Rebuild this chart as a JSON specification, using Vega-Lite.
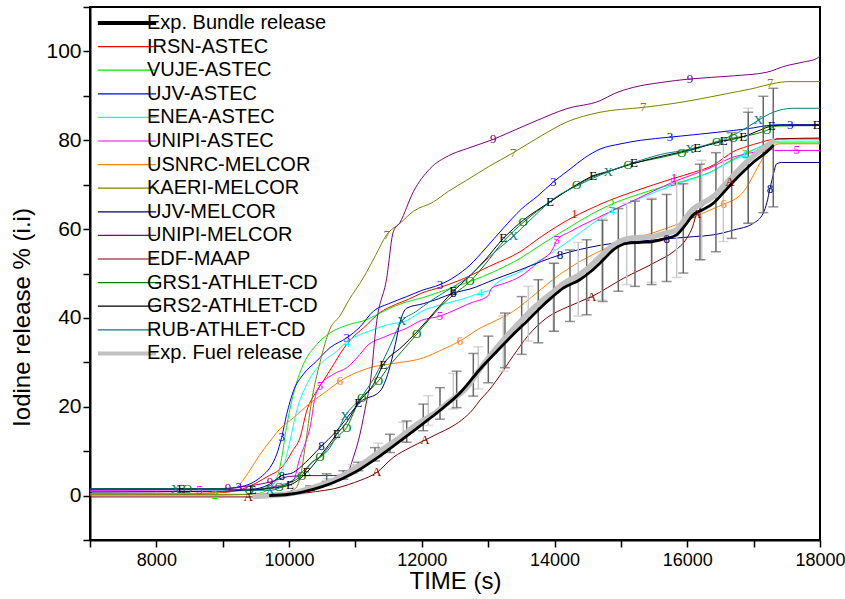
{
"$schema": "https://vega.github.io/schema/vega-lite/v6.json",
"width": 730, "height": 533,
"autosize": {"type": "none"},
"padding": {"left": 90, "top": 7, "right": 25, "bottom": 59},
"background": "white",
"config": {
 "font": "Liberation Sans",
 "view": {"stroke": "black", "strokeWidth": 2},
 "axis": {"grid": false, "domainColor": "black", "domainWidth": 2, "tickColor": "black", "tickWidth": 1.5, "tickSize": 7, "labelColor": "black", "labelFontSize": 21, "titleColor": "black", "titleFontSize": 24, "titleFontWeight": "normal", "labelFont": "Liberation Sans", "titleFont": "Liberation Sans", "labelOverlap": false, "labelFlush": false}
},
"datasets": {
 "curves": [
  {"s":"IRSN-ASTEC","t":7000,"v":0.5},{"s":"IRSN-ASTEC","t":8500,"v":0.5},{"s":"IRSN-ASTEC","t":9000,"v":0.7},{"s":"IRSN-ASTEC","t":9300,"v":1.5},{"s":"IRSN-ASTEC","t":9500,"v":2.8},{"s":"IRSN-ASTEC","t":9700,"v":4.5},{"s":"IRSN-ASTEC","t":9850,"v":5.8},{"s":"IRSN-ASTEC","t":9950,"v":7.5},{"s":"IRSN-ASTEC","t":10050,"v":10},{"s":"IRSN-ASTEC","t":10164,"v":13},{"s":"IRSN-ASTEC","t":10264,"v":19},{"s":"IRSN-ASTEC","t":10414,"v":23.5},{"s":"IRSN-ASTEC","t":10515,"v":25.8},{"s":"IRSN-ASTEC","t":10650,"v":29},{"s":"IRSN-ASTEC","t":10817,"v":33},{"s":"IRSN-ASTEC","t":10950,"v":35.5},{"s":"IRSN-ASTEC","t":11118,"v":37.7},{"s":"IRSN-ASTEC","t":11370,"v":41.2},{"s":"IRSN-ASTEC","t":11600,"v":43},{"s":"IRSN-ASTEC","t":11800,"v":44.2},{"s":"IRSN-ASTEC","t":12000,"v":45.6},{"s":"IRSN-ASTEC","t":12300,"v":47},{"s":"IRSN-ASTEC","t":12700,"v":49.3},{"s":"IRSN-ASTEC","t":13000,"v":51.5},{"s":"IRSN-ASTEC","t":13480,"v":54.9},{"s":"IRSN-ASTEC","t":13800,"v":58.3},{"s":"IRSN-ASTEC","t":14230,"v":62.3},{"s":"IRSN-ASTEC","t":14500,"v":64.3},{"s":"IRSN-ASTEC","t":14800,"v":66.3},{"s":"IRSN-ASTEC","t":15200,"v":68.5},{"s":"IRSN-ASTEC","t":15790,"v":71.4},{"s":"IRSN-ASTEC","t":16100,"v":72.8},{"s":"IRSN-ASTEC","t":16390,"v":74.4},{"s":"IRSN-ASTEC","t":16550,"v":76},{"s":"IRSN-ASTEC","t":16690,"v":77.4},{"s":"IRSN-ASTEC","t":16900,"v":78.6},{"s":"IRSN-ASTEC","t":17100,"v":79.5},{"s":"IRSN-ASTEC","t":17250,"v":80.1},{"s":"IRSN-ASTEC","t":17400,"v":80.3},{"s":"IRSN-ASTEC","t":18000,"v":80.3},

  {"s":"VUJE-ASTEC","t":7000,"v":0.1},{"s":"VUJE-ASTEC","t":9000,"v":0.1},{"s":"VUJE-ASTEC","t":9500,"v":0.4},{"s":"VUJE-ASTEC","t":9700,"v":1.5},{"s":"VUJE-ASTEC","t":9780,"v":3},{"s":"VUJE-ASTEC","t":9840,"v":5},{"s":"VUJE-ASTEC","t":9890,"v":8.6},{"s":"VUJE-ASTEC","t":9960,"v":15.3},{"s":"VUJE-ASTEC","t":10064,"v":22.8},{"s":"VUJE-ASTEC","t":10214,"v":29.5},{"s":"VUJE-ASTEC","t":10416,"v":34},{"s":"VUJE-ASTEC","t":10616,"v":36.6},{"s":"VUJE-ASTEC","t":10900,"v":38.5},{"s":"VUJE-ASTEC","t":11169,"v":39.6},{"s":"VUJE-ASTEC","t":11320,"v":40.7},{"s":"VUJE-ASTEC","t":11520,"v":42.2},{"s":"VUJE-ASTEC","t":11750,"v":43.5},{"s":"VUJE-ASTEC","t":12000,"v":44.5},{"s":"VUJE-ASTEC","t":12300,"v":46},{"s":"VUJE-ASTEC","t":12726,"v":48.2},{"s":"VUJE-ASTEC","t":13100,"v":50.5},{"s":"VUJE-ASTEC","t":13480,"v":53.4},{"s":"VUJE-ASTEC","t":13800,"v":56.5},{"s":"VUJE-ASTEC","t":14233,"v":60.5},{"s":"VUJE-ASTEC","t":14550,"v":63.3},{"s":"VUJE-ASTEC","t":14860,"v":65.6},{"s":"VUJE-ASTEC","t":15300,"v":68},{"s":"VUJE-ASTEC","t":15800,"v":70.2},{"s":"VUJE-ASTEC","t":16100,"v":71.5},{"s":"VUJE-ASTEC","t":16400,"v":73.2},{"s":"VUJE-ASTEC","t":16600,"v":75},{"s":"VUJE-ASTEC","t":16870,"v":77},{"s":"VUJE-ASTEC","t":17100,"v":78.5},{"s":"VUJE-ASTEC","t":17300,"v":79.4},{"s":"VUJE-ASTEC","t":18000,"v":79.4},

  {"s":"UJV-ASTEC","t":7000,"v":1.3},{"s":"UJV-ASTEC","t":9000,"v":1.5},{"s":"UJV-ASTEC","t":9200,"v":1.8},{"s":"UJV-ASTEC","t":9461,"v":3},{"s":"UJV-ASTEC","t":9600,"v":4.5},{"s":"UJV-ASTEC","t":9712,"v":6.3},{"s":"UJV-ASTEC","t":9813,"v":9.3},{"s":"UJV-ASTEC","t":9888,"v":13.1},{"s":"UJV-ASTEC","t":9964,"v":18.3},{"s":"UJV-ASTEC","t":10064,"v":23.5},{"s":"UJV-ASTEC","t":10214,"v":27.3},{"s":"UJV-ASTEC","t":10416,"v":30.3},{"s":"UJV-ASTEC","t":10616,"v":33.3},{"s":"UJV-ASTEC","t":10868,"v":35.5},{"s":"UJV-ASTEC","t":11070,"v":38},{"s":"UJV-ASTEC","t":11269,"v":41.5},{"s":"UJV-ASTEC","t":11500,"v":43.2},{"s":"UJV-ASTEC","t":11772,"v":44.8},{"s":"UJV-ASTEC","t":12000,"v":46.2},{"s":"UJV-ASTEC","t":12274,"v":47.5},{"s":"UJV-ASTEC","t":12500,"v":49.3},{"s":"UJV-ASTEC","t":12726,"v":51.9},{"s":"UJV-ASTEC","t":12950,"v":55.5},{"s":"UJV-ASTEC","t":13228,"v":60.2},{"s":"UJV-ASTEC","t":13500,"v":64.5},{"s":"UJV-ASTEC","t":13750,"v":67.5},{"s":"UJV-ASTEC","t":13981,"v":70.6},{"s":"UJV-ASTEC","t":14233,"v":73.5},{"s":"UJV-ASTEC","t":14450,"v":76},{"s":"UJV-ASTEC","t":14685,"v":78},{"s":"UJV-ASTEC","t":15000,"v":79.2},{"s":"UJV-ASTEC","t":15300,"v":80},{"s":"UJV-ASTEC","t":15739,"v":80.7},{"s":"UJV-ASTEC","t":16200,"v":81.4},{"s":"UJV-ASTEC","t":16693,"v":82.2},{"s":"UJV-ASTEC","t":17000,"v":82.8},{"s":"UJV-ASTEC","t":17196,"v":83.3},{"s":"UJV-ASTEC","t":17400,"v":83.5},{"s":"UJV-ASTEC","t":18000,"v":83.5},

  {"s":"ENEA-ASTEC","t":7000,"v":0.9},{"s":"ENEA-ASTEC","t":9000,"v":1},{"s":"ENEA-ASTEC","t":9500,"v":1.2},{"s":"ENEA-ASTEC","t":9750,"v":2.5},{"s":"ENEA-ASTEC","t":9850,"v":4},{"s":"ENEA-ASTEC","t":9912,"v":6.3},{"s":"ENEA-ASTEC","t":10014,"v":12.3},{"s":"ENEA-ASTEC","t":10114,"v":19.1},{"s":"ENEA-ASTEC","t":10265,"v":25},{"s":"ENEA-ASTEC","t":10466,"v":29.5},{"s":"ENEA-ASTEC","t":10717,"v":32.5},{"s":"ENEA-ASTEC","t":10868,"v":34.6},{"s":"ENEA-ASTEC","t":11200,"v":37},{"s":"ENEA-ASTEC","t":11500,"v":38.5},{"s":"ENEA-ASTEC","t":11772,"v":39.4},{"s":"ENEA-ASTEC","t":12000,"v":41.5},{"s":"ENEA-ASTEC","t":12300,"v":43},{"s":"ENEA-ASTEC","t":12600,"v":44.2},{"s":"ENEA-ASTEC","t":12877,"v":45.6},{"s":"ENEA-ASTEC","t":13050,"v":46.5},{"s":"ENEA-ASTEC","t":13077,"v":47.1},{"s":"ENEA-ASTEC","t":13479,"v":50.4},{"s":"ENEA-ASTEC","t":13981,"v":54.9},{"s":"ENEA-ASTEC","t":14233,"v":57.5},{"s":"ENEA-ASTEC","t":14550,"v":61},{"s":"ENEA-ASTEC","t":14860,"v":64},{"s":"ENEA-ASTEC","t":15300,"v":67},{"s":"ENEA-ASTEC","t":15789,"v":69.9},{"s":"ENEA-ASTEC","t":16300,"v":72.5},{"s":"ENEA-ASTEC","t":16600,"v":74.8},{"s":"ENEA-ASTEC","t":16844,"v":76.6},{"s":"ENEA-ASTEC","t":17100,"v":78.6},{"s":"ENEA-ASTEC","t":17250,"v":79.6},{"s":"ENEA-ASTEC","t":17400,"v":79.8},{"s":"ENEA-ASTEC","t":18000,"v":79.8},

  {"s":"UNIPI-ASTEC","t":7000,"v":1.2},{"s":"UNIPI-ASTEC","t":8650,"v":1.3},{"s":"UNIPI-ASTEC","t":9500,"v":1.5},{"s":"UNIPI-ASTEC","t":9900,"v":2.5},{"s":"UNIPI-ASTEC","t":10064,"v":3.4},{"s":"UNIPI-ASTEC","t":10164,"v":8.6},{"s":"UNIPI-ASTEC","t":10250,"v":12},{"s":"UNIPI-ASTEC","t":10315,"v":15.3},{"s":"UNIPI-ASTEC","t":10390,"v":22},{"s":"UNIPI-ASTEC","t":10466,"v":24.7},{"s":"UNIPI-ASTEC","t":10666,"v":27.3},{"s":"UNIPI-ASTEC","t":10868,"v":28.8},{"s":"UNIPI-ASTEC","t":11068,"v":31.8},{"s":"UNIPI-ASTEC","t":11169,"v":33.6},{"s":"UNIPI-ASTEC","t":11450,"v":35.8},{"s":"UNIPI-ASTEC","t":11772,"v":37.7},{"s":"UNIPI-ASTEC","t":12000,"v":39.5},{"s":"UNIPI-ASTEC","t":12274,"v":40.4},{"s":"UNIPI-ASTEC","t":12500,"v":41.8},{"s":"UNIPI-ASTEC","t":12726,"v":43.3},{"s":"UNIPI-ASTEC","t":13000,"v":45},{"s":"UNIPI-ASTEC","t":13052,"v":46.7},{"s":"UNIPI-ASTEC","t":13250,"v":47.8},{"s":"UNIPI-ASTEC","t":13479,"v":49.3},{"s":"UNIPI-ASTEC","t":13750,"v":52.5},{"s":"UNIPI-ASTEC","t":13981,"v":55.7},{"s":"UNIPI-ASTEC","t":14032,"v":57.5},{"s":"UNIPI-ASTEC","t":14233,"v":59.4},{"s":"UNIPI-ASTEC","t":14685,"v":62.8},{"s":"UNIPI-ASTEC","t":15200,"v":66.5},{"s":"UNIPI-ASTEC","t":15789,"v":70.6},{"s":"UNIPI-ASTEC","t":16300,"v":73.5},{"s":"UNIPI-ASTEC","t":16693,"v":76.2},{"s":"UNIPI-ASTEC","t":17000,"v":77.3},{"s":"UNIPI-ASTEC","t":17246,"v":78.1},{"s":"UNIPI-ASTEC","t":17320,"v":77.7},{"s":"UNIPI-ASTEC","t":18000,"v":77.7},

  {"s":"USNRC-MELCOR","t":7000,"v":0.4},{"s":"USNRC-MELCOR","t":8800,"v":0.5},{"s":"USNRC-MELCOR","t":9000,"v":0.8},{"s":"USNRC-MELCOR","t":9150,"v":1.2},{"s":"USNRC-MELCOR","t":9260,"v":2.6},{"s":"USNRC-MELCOR","t":9400,"v":5.5},{"s":"USNRC-MELCOR","t":9550,"v":9},{"s":"USNRC-MELCOR","t":9700,"v":12},{"s":"USNRC-MELCOR","t":9850,"v":14.8},{"s":"USNRC-MELCOR","t":10064,"v":17.5},{"s":"USNRC-MELCOR","t":10315,"v":20.8},{"s":"USNRC-MELCOR","t":10566,"v":23.5},{"s":"USNRC-MELCOR","t":10767,"v":25.8},{"s":"USNRC-MELCOR","t":11068,"v":28},{"s":"USNRC-MELCOR","t":11219,"v":28.8},{"s":"USNRC-MELCOR","t":11600,"v":29.8},{"s":"USNRC-MELCOR","t":12022,"v":31},{"s":"USNRC-MELCOR","t":12300,"v":32.8},{"s":"USNRC-MELCOR","t":12575,"v":34.8},{"s":"USNRC-MELCOR","t":12877,"v":37.7},{"s":"USNRC-MELCOR","t":13100,"v":39.3},{"s":"USNRC-MELCOR","t":13379,"v":41.5},{"s":"USNRC-MELCOR","t":13600,"v":44},{"s":"USNRC-MELCOR","t":13881,"v":47.5},{"s":"USNRC-MELCOR","t":14100,"v":50},{"s":"USNRC-MELCOR","t":14383,"v":52.7},{"s":"USNRC-MELCOR","t":14650,"v":54.8},{"s":"USNRC-MELCOR","t":14885,"v":56.4},{"s":"USNRC-MELCOR","t":15150,"v":57.8},{"s":"USNRC-MELCOR","t":15388,"v":58.7},{"s":"USNRC-MELCOR","t":15650,"v":60},{"s":"USNRC-MELCOR","t":15890,"v":61.3},{"s":"USNRC-MELCOR","t":16150,"v":63},{"s":"USNRC-MELCOR","t":16392,"v":64.6},{"s":"USNRC-MELCOR","t":16550,"v":65.6},{"s":"USNRC-MELCOR","t":16794,"v":67.6},{"s":"USNRC-MELCOR","t":16900,"v":69.5},{"s":"USNRC-MELCOR","t":16995,"v":72.1},{"s":"USNRC-MELCOR","t":17120,"v":75.5},{"s":"USNRC-MELCOR","t":17246,"v":78.1},{"s":"USNRC-MELCOR","t":17397,"v":79.2},{"s":"USNRC-MELCOR","t":18000,"v":79.2},

  {"s":"KAERI-MELCOR","t":7000,"v":0.2},{"s":"KAERI-MELCOR","t":9500,"v":0.3},{"s":"KAERI-MELCOR","t":9900,"v":0.6},{"s":"KAERI-MELCOR","t":10050,"v":1.2},{"s":"KAERI-MELCOR","t":10114,"v":1.9},{"s":"KAERI-MELCOR","t":10180,"v":5},{"s":"KAERI-MELCOR","t":10240,"v":10.8},{"s":"KAERI-MELCOR","t":10340,"v":21.3},{"s":"KAERI-MELCOR","t":10466,"v":30},{"s":"KAERI-MELCOR","t":10616,"v":37.5},{"s":"KAERI-MELCOR","t":10767,"v":40.5},{"s":"KAERI-MELCOR","t":10900,"v":44},{"s":"KAERI-MELCOR","t":11118,"v":49},{"s":"KAERI-MELCOR","t":11300,"v":54},{"s":"KAERI-MELCOR","t":11470,"v":58.7},{"s":"KAERI-MELCOR","t":11671,"v":61.3},{"s":"KAERI-MELCOR","t":11872,"v":64},{"s":"KAERI-MELCOR","t":12173,"v":66.1},{"s":"KAERI-MELCOR","t":12400,"v":68.5},{"s":"KAERI-MELCOR","t":12676,"v":71},{"s":"KAERI-MELCOR","t":13000,"v":74},{"s":"KAERI-MELCOR","t":13379,"v":77.2},{"s":"KAERI-MELCOR","t":13800,"v":81},{"s":"KAERI-MELCOR","t":14183,"v":84.1},{"s":"KAERI-MELCOR","t":14685,"v":86.3},{"s":"KAERI-MELCOR","t":15337,"v":87.4},{"s":"KAERI-MELCOR","t":15800,"v":88.3},{"s":"KAERI-MELCOR","t":16191,"v":89.3},{"s":"KAERI-MELCOR","t":16600,"v":90.5},{"s":"KAERI-MELCOR","t":16944,"v":91.5},{"s":"KAERI-MELCOR","t":17346,"v":92.9},{"s":"KAERI-MELCOR","t":17500,"v":93.2},{"s":"KAERI-MELCOR","t":18000,"v":93.2},

  {"s":"UJV-MELCOR","t":7000,"v":0.8},{"s":"UJV-MELCOR","t":9000,"v":1},{"s":"UJV-MELCOR","t":9400,"v":1.3},{"s":"UJV-MELCOR","t":9700,"v":2.5},{"s":"UJV-MELCOR","t":9888,"v":4.5},{"s":"UJV-MELCOR","t":10064,"v":5.2},{"s":"UJV-MELCOR","t":10250,"v":7.5},{"s":"UJV-MELCOR","t":10466,"v":10.8},{"s":"UJV-MELCOR","t":10717,"v":14.6},{"s":"UJV-MELCOR","t":10968,"v":19.3},{"s":"UJV-MELCOR","t":11068,"v":21},{"s":"UJV-MELCOR","t":11370,"v":23.5},{"s":"UJV-MELCOR","t":11500,"v":28},{"s":"UJV-MELCOR","t":11600,"v":34},{"s":"UJV-MELCOR","t":11671,"v":39},{"s":"UJV-MELCOR","t":11772,"v":42.2},{"s":"UJV-MELCOR","t":12022,"v":43.2},{"s":"UJV-MELCOR","t":12250,"v":44.3},{"s":"UJV-MELCOR","t":12474,"v":45.6},{"s":"UJV-MELCOR","t":12726,"v":46.5},{"s":"UJV-MELCOR","t":13100,"v":48.7},{"s":"UJV-MELCOR","t":13479,"v":50.8},{"s":"UJV-MELCOR","t":13800,"v":52.7},{"s":"UJV-MELCOR","t":14082,"v":54.2},{"s":"UJV-MELCOR","t":14500,"v":55.8},{"s":"UJV-MELCOR","t":14885,"v":56.8},{"s":"UJV-MELCOR","t":15300,"v":57.3},{"s":"UJV-MELCOR","t":15689,"v":57.8},{"s":"UJV-MELCOR","t":16100,"v":58.3},{"s":"UJV-MELCOR","t":16392,"v":58.7},{"s":"UJV-MELCOR","t":16700,"v":59.8},{"s":"UJV-MELCOR","t":16995,"v":61.3},{"s":"UJV-MELCOR","t":17145,"v":63.6},{"s":"UJV-MELCOR","t":17200,"v":66},{"s":"UJV-MELCOR","t":17246,"v":69.1},{"s":"UJV-MELCOR","t":17300,"v":72.5},{"s":"UJV-MELCOR","t":17346,"v":74.7},{"s":"UJV-MELCOR","t":17420,"v":75},{"s":"UJV-MELCOR","t":18000,"v":75},

  {"s":"UNIPI-MELCOR","t":7000,"v":1.5},{"s":"UNIPI-MELCOR","t":9000,"v":1.6},{"s":"UNIPI-MELCOR","t":9300,"v":2},{"s":"UNIPI-MELCOR","t":9700,"v":3},{"s":"UNIPI-MELCOR","t":10000,"v":4.3},{"s":"UNIPI-MELCOR","t":10300,"v":4.5},{"s":"UNIPI-MELCOR","t":10666,"v":4.5},{"s":"UNIPI-MELCOR","t":10868,"v":4.9},{"s":"UNIPI-MELCOR","t":10968,"v":8.6},{"s":"UNIPI-MELCOR","t":11068,"v":13.8},{"s":"UNIPI-MELCOR","t":11169,"v":21.3},{"s":"UNIPI-MELCOR","t":11219,"v":25},{"s":"UNIPI-MELCOR","t":11320,"v":39.2},{"s":"UNIPI-MELCOR","t":11470,"v":48.9},{"s":"UNIPI-MELCOR","t":11570,"v":59.4},{"s":"UNIPI-MELCOR","t":11671,"v":61.5},{"s":"UNIPI-MELCOR","t":11872,"v":68.4},{"s":"UNIPI-MELCOR","t":12123,"v":73.6},{"s":"UNIPI-MELCOR","t":12400,"v":76.5},{"s":"UNIPI-MELCOR","t":12676,"v":78.1},{"s":"UNIPI-MELCOR","t":13077,"v":80.2},{"s":"UNIPI-MELCOR","t":13400,"v":82.3},{"s":"UNIPI-MELCOR","t":13680,"v":84.1},{"s":"UNIPI-MELCOR","t":14183,"v":87.1},{"s":"UNIPI-MELCOR","t":14685,"v":88.9},{"s":"UNIPI-MELCOR","t":14900,"v":90.5},{"s":"UNIPI-MELCOR","t":15187,"v":91.9},{"s":"UNIPI-MELCOR","t":15600,"v":93},{"s":"UNIPI-MELCOR","t":16041,"v":93.8},{"s":"UNIPI-MELCOR","t":16693,"v":94.5},{"s":"UNIPI-MELCOR","t":17196,"v":95.3},{"s":"UNIPI-MELCOR","t":17497,"v":96.8},{"s":"UNIPI-MELCOR","t":17750,"v":97.6},{"s":"UNIPI-MELCOR","t":17950,"v":98.4},{"s":"UNIPI-MELCOR","t":18000,"v":99},

  {"s":"EDF-MAAP","t":7000,"v":-0.3},{"s":"EDF-MAAP","t":9500,"v":-0.3},{"s":"EDF-MAAP","t":9900,"v":-0.1},{"s":"EDF-MAAP","t":10164,"v":0.4},{"s":"EDF-MAAP","t":10400,"v":0.9},{"s":"EDF-MAAP","t":10666,"v":1.5},{"s":"EDF-MAAP","t":10900,"v":2.5},{"s":"EDF-MAAP","t":11068,"v":3.4},{"s":"EDF-MAAP","t":11320,"v":5.2},{"s":"EDF-MAAP","t":11570,"v":8.6},{"s":"EDF-MAAP","t":11822,"v":10.8},{"s":"EDF-MAAP","t":12048,"v":12.5},{"s":"EDF-MAAP","t":12250,"v":14},{"s":"EDF-MAAP","t":12425,"v":15.3},{"s":"EDF-MAAP","t":12600,"v":17},{"s":"EDF-MAAP","t":12776,"v":19.5},{"s":"EDF-MAAP","t":12877,"v":21.5},{"s":"EDF-MAAP","t":13000,"v":23.5},{"s":"EDF-MAAP","t":13128,"v":26},{"s":"EDF-MAAP","t":13379,"v":31.5},{"s":"EDF-MAAP","t":13600,"v":36},{"s":"EDF-MAAP","t":13881,"v":40},{"s":"EDF-MAAP","t":14200,"v":42.5},{"s":"EDF-MAAP","t":14559,"v":44.8},{"s":"EDF-MAAP","t":15036,"v":48.9},{"s":"EDF-MAAP","t":15539,"v":52.7},{"s":"EDF-MAAP","t":15800,"v":55},{"s":"EDF-MAAP","t":15991,"v":57.9},{"s":"EDF-MAAP","t":16080,"v":60.5},{"s":"EDF-MAAP","t":16141,"v":63.5},{"s":"EDF-MAAP","t":16191,"v":64.5},{"s":"EDF-MAAP","t":16643,"v":70.6},{"s":"EDF-MAAP","t":16944,"v":75.9},{"s":"EDF-MAAP","t":17246,"v":78.5},{"s":"EDF-MAAP","t":17350,"v":80.3},{"s":"EDF-MAAP","t":18000,"v":80.5},

  {"s":"GRS1-ATHLET-CD","t":7000,"v":1.5},{"s":"GRS1-ATHLET-CD","t":9000,"v":1.5},{"s":"GRS1-ATHLET-CD","t":9400,"v":1.3},{"s":"GRS1-ATHLET-CD","t":9700,"v":1.7},{"s":"GRS1-ATHLET-CD","t":9850,"v":2},{"s":"GRS1-ATHLET-CD","t":10000,"v":2.8},{"s":"GRS1-ATHLET-CD","t":10189,"v":4.5},{"s":"GRS1-ATHLET-CD","t":10365,"v":7.8},{"s":"GRS1-ATHLET-CD","t":10466,"v":8.6},{"s":"GRS1-ATHLET-CD","t":10600,"v":11},{"s":"GRS1-ATHLET-CD","t":10767,"v":13.8},{"s":"GRS1-ATHLET-CD","t":10868,"v":15.3},{"s":"GRS1-ATHLET-CD","t":10968,"v":18.5},{"s":"GRS1-ATHLET-CD","t":11068,"v":21.7},{"s":"GRS1-ATHLET-CD","t":11219,"v":23.8},{"s":"GRS1-ATHLET-CD","t":11345,"v":25.8},{"s":"GRS1-ATHLET-CD","t":11500,"v":29},{"s":"GRS1-ATHLET-CD","t":11700,"v":32.5},{"s":"GRS1-ATHLET-CD","t":11922,"v":36.3},{"s":"GRS1-ATHLET-CD","t":12100,"v":39.5},{"s":"GRS1-ATHLET-CD","t":12300,"v":42.8},{"s":"GRS1-ATHLET-CD","t":12500,"v":45.5},{"s":"GRS1-ATHLET-CD","t":12726,"v":48.2},{"s":"GRS1-ATHLET-CD","t":12950,"v":52},{"s":"GRS1-ATHLET-CD","t":13228,"v":57.2},{"s":"GRS1-ATHLET-CD","t":13529,"v":61.5},{"s":"GRS1-ATHLET-CD","t":13931,"v":66.1},{"s":"GRS1-ATHLET-CD","t":14333,"v":69.9},{"s":"GRS1-ATHLET-CD","t":14584,"v":71.8},{"s":"GRS1-ATHLET-CD","t":14810,"v":72.9},{"s":"GRS1-ATHLET-CD","t":15111,"v":74.5},{"s":"GRS1-ATHLET-CD","t":15500,"v":75.8},{"s":"GRS1-ATHLET-CD","t":15915,"v":77.2},{"s":"GRS1-ATHLET-CD","t":16200,"v":78.4},{"s":"GRS1-ATHLET-CD","t":16442,"v":79.6},{"s":"GRS1-ATHLET-CD","t":16693,"v":80.5},{"s":"GRS1-ATHLET-CD","t":16900,"v":81},{"s":"GRS1-ATHLET-CD","t":17196,"v":82.2},{"s":"GRS1-ATHLET-CD","t":17350,"v":83.2},{"s":"GRS1-ATHLET-CD","t":18000,"v":83.3},

  {"s":"GRS2-ATHLET-CD","t":7000,"v":1.5},{"s":"GRS2-ATHLET-CD","t":9000,"v":1.5},{"s":"GRS2-ATHLET-CD","t":9400,"v":1.2},{"s":"GRS2-ATHLET-CD","t":9700,"v":1.6},{"s":"GRS2-ATHLET-CD","t":10014,"v":2.4},{"s":"GRS2-ATHLET-CD","t":10265,"v":5.2},{"s":"GRS2-ATHLET-CD","t":10466,"v":8.8},{"s":"GRS2-ATHLET-CD","t":10717,"v":13.8},{"s":"GRS2-ATHLET-CD","t":10868,"v":16.5},{"s":"GRS2-ATHLET-CD","t":11043,"v":20.9},{"s":"GRS2-ATHLET-CD","t":11270,"v":25},{"s":"GRS2-ATHLET-CD","t":11420,"v":29.5},{"s":"GRS2-ATHLET-CD","t":11700,"v":33.5},{"s":"GRS2-ATHLET-CD","t":11922,"v":36.8},{"s":"GRS2-ATHLET-CD","t":12200,"v":41.5},{"s":"GRS2-ATHLET-CD","t":12474,"v":46},{"s":"GRS2-ATHLET-CD","t":12726,"v":49.5},{"s":"GRS2-ATHLET-CD","t":12950,"v":53},{"s":"GRS2-ATHLET-CD","t":13228,"v":57.9},{"s":"GRS2-ATHLET-CD","t":13529,"v":62},{"s":"GRS2-ATHLET-CD","t":13931,"v":66.1},{"s":"GRS2-ATHLET-CD","t":14333,"v":70},{"s":"GRS2-ATHLET-CD","t":14584,"v":72},{"s":"GRS2-ATHLET-CD","t":14810,"v":73},{"s":"GRS2-ATHLET-CD","t":15197,"v":74.8},{"s":"GRS2-ATHLET-CD","t":15500,"v":76},{"s":"GRS2-ATHLET-CD","t":15915,"v":77.4},{"s":"GRS2-ATHLET-CD","t":16150,"v":78.3},{"s":"GRS2-ATHLET-CD","t":16550,"v":79.8},{"s":"GRS2-ATHLET-CD","t":16844,"v":80.8},{"s":"GRS2-ATHLET-CD","t":17050,"v":82},{"s":"GRS2-ATHLET-CD","t":17271,"v":83.2},{"s":"GRS2-ATHLET-CD","t":17400,"v":83.4},{"s":"GRS2-ATHLET-CD","t":18000,"v":83.4},

  {"s":"RUB-ATHLET-CD","t":7000,"v":1.5},{"s":"RUB-ATHLET-CD","t":9000,"v":1.5},{"s":"RUB-ATHLET-CD","t":9400,"v":1.2},{"s":"RUB-ATHLET-CD","t":9712,"v":1.2},{"s":"RUB-ATHLET-CD","t":9900,"v":2},{"s":"RUB-ATHLET-CD","t":10100,"v":4},{"s":"RUB-ATHLET-CD","t":10350,"v":7.5},{"s":"RUB-ATHLET-CD","t":10616,"v":10.8},{"s":"RUB-ATHLET-CD","t":10843,"v":17.9},{"s":"RUB-ATHLET-CD","t":11068,"v":21.8},{"s":"RUB-ATHLET-CD","t":11300,"v":27},{"s":"RUB-ATHLET-CD","t":11500,"v":33},{"s":"RUB-ATHLET-CD","t":11696,"v":39.2},{"s":"RUB-ATHLET-CD","t":11900,"v":41.3},{"s":"RUB-ATHLET-CD","t":12150,"v":44},{"s":"RUB-ATHLET-CD","t":12474,"v":47},{"s":"RUB-ATHLET-CD","t":12726,"v":49.5},{"s":"RUB-ATHLET-CD","t":13000,"v":53.5},{"s":"RUB-ATHLET-CD","t":13379,"v":58.4},{"s":"RUB-ATHLET-CD","t":13700,"v":63},{"s":"RUB-ATHLET-CD","t":14000,"v":67},{"s":"RUB-ATHLET-CD","t":14333,"v":69.7},{"s":"RUB-ATHLET-CD","t":14810,"v":72.9},{"s":"RUB-ATHLET-CD","t":15200,"v":75},{"s":"RUB-ATHLET-CD","t":15600,"v":76.8},{"s":"RUB-ATHLET-CD","t":16041,"v":78},{"s":"RUB-ATHLET-CD","t":16500,"v":80},{"s":"RUB-ATHLET-CD","t":16800,"v":82},{"s":"RUB-ATHLET-CD","t":17070,"v":84.5},{"s":"RUB-ATHLET-CD","t":17246,"v":86},{"s":"RUB-ATHLET-CD","t":17397,"v":86.8},{"s":"RUB-ATHLET-CD","t":17600,"v":87.2},{"s":"RUB-ATHLET-CD","t":18000,"v":87.2}
 ],
 "fuel": [
  {"s":"Exp. Fuel release","t":9450,"v":-0.2},{"s":"Exp. Fuel release","t":9700,"v":0},{"s":"Exp. Fuel release","t":10000,"v":0.4},{"s":"Exp. Fuel release","t":10164,"v":0.9},{"s":"Exp. Fuel release","t":10400,"v":2},{"s":"Exp. Fuel release","t":10666,"v":3.4},{"s":"Exp. Fuel release","t":10900,"v":5.3},{"s":"Exp. Fuel release","t":11169,"v":7.8},{"s":"Exp. Fuel release","t":11400,"v":10.3},{"s":"Exp. Fuel release","t":11671,"v":13.1},{"s":"Exp. Fuel release","t":11900,"v":15.8},{"s":"Exp. Fuel release","t":12173,"v":18.3},{"s":"Exp. Fuel release","t":12400,"v":21},{"s":"Exp. Fuel release","t":12676,"v":24.3},{"s":"Exp. Fuel release","t":12900,"v":29},{"s":"Exp. Fuel release","t":13100,"v":32.8},{"s":"Exp. Fuel release","t":13380,"v":37.5},{"s":"Exp. Fuel release","t":13600,"v":41},{"s":"Exp. Fuel release","t":13780,"v":43.5},{"s":"Exp. Fuel release","t":13950,"v":45.5},{"s":"Exp. Fuel release","t":14130,"v":47.7},{"s":"Exp. Fuel release","t":14380,"v":49.8},{"s":"Exp. Fuel release","t":14550,"v":51.8},{"s":"Exp. Fuel release","t":14735,"v":54.5},{"s":"Exp. Fuel release","t":14900,"v":56.5},{"s":"Exp. Fuel release","t":15090,"v":57.8},{"s":"Exp. Fuel release","t":15300,"v":58.1},{"s":"Exp. Fuel release","t":15480,"v":58.3},{"s":"Exp. Fuel release","t":15650,"v":59},{"s":"Exp. Fuel release","t":15840,"v":59.8},{"s":"Exp. Fuel release","t":15950,"v":62},{"s":"Exp. Fuel release","t":16090,"v":64.5},{"s":"Exp. Fuel release","t":16250,"v":66},{"s":"Exp. Fuel release","t":16390,"v":67.3},{"s":"Exp. Fuel release","t":16550,"v":69.7},{"s":"Exp. Fuel release","t":16690,"v":72},{"s":"Exp. Fuel release","t":16850,"v":74.5},{"s":"Exp. Fuel release","t":17000,"v":76.5},{"s":"Exp. Fuel release","t":17250,"v":79.3},{"s":"Exp. Fuel release","t":17320,"v":80}
 ],
 "bundle": [
  {"s":"Exp. Bundle release","t":9700,"v":0},{"s":"Exp. Bundle release","t":10000,"v":0.3},{"s":"Exp. Bundle release","t":10200,"v":0.8},{"s":"Exp. Bundle release","t":10500,"v":2},{"s":"Exp. Bundle release","t":10800,"v":3.8},{"s":"Exp. Bundle release","t":11000,"v":5.3},{"s":"Exp. Bundle release","t":11300,"v":8.2},{"s":"Exp. Bundle release","t":11600,"v":11.5},{"s":"Exp. Bundle release","t":12000,"v":16},{"s":"Exp. Bundle release","t":12300,"v":19.5},{"s":"Exp. Bundle release","t":12600,"v":23.5},{"s":"Exp. Bundle release","t":12880,"v":28.5},{"s":"Exp. Bundle release","t":13100,"v":32},{"s":"Exp. Bundle release","t":13380,"v":36.3},{"s":"Exp. Bundle release","t":13600,"v":39.5},{"s":"Exp. Bundle release","t":13780,"v":42.2},{"s":"Exp. Bundle release","t":13950,"v":44.5},{"s":"Exp. Bundle release","t":14130,"v":46.7},{"s":"Exp. Bundle release","t":14380,"v":48.6},{"s":"Exp. Bundle release","t":14550,"v":50.5},{"s":"Exp. Bundle release","t":14735,"v":53.1},{"s":"Exp. Bundle release","t":14900,"v":55.5},{"s":"Exp. Bundle release","t":15090,"v":56.8},{"s":"Exp. Bundle release","t":15300,"v":57},{"s":"Exp. Bundle release","t":15480,"v":57.2},{"s":"Exp. Bundle release","t":15650,"v":57.8},{"s":"Exp. Bundle release","t":15840,"v":58.7},{"s":"Exp. Bundle release","t":15950,"v":60.5},{"s":"Exp. Bundle release","t":16090,"v":63.2},{"s":"Exp. Bundle release","t":16250,"v":64.5},{"s":"Exp. Bundle release","t":16390,"v":65.8},{"s":"Exp. Bundle release","t":16550,"v":68.3},{"s":"Exp. Bundle release","t":16690,"v":70.6},{"s":"Exp. Bundle release","t":16850,"v":73},{"s":"Exp. Bundle release","t":17000,"v":75.1},{"s":"Exp. Bundle release","t":17250,"v":78.1},{"s":"Exp. Bundle release","t":17300,"v":78.9}
 ],
 "err": [
  {"g":"fuel","t":10212,"lo":0.4,"hi":1.4},{"g":"fuel","t":10589,"lo":2.2,"hi":3.8},{"g":"fuel","t":10966,"lo":5.0,"hi":7.0},{"g":"fuel","t":11343,"lo":8.7,"hi":11.8},{"g":"fuel","t":11720,"lo":12.2,"hi":16.5},{"g":"fuel","t":12097,"lo":15.8,"hi":22.5},{"g":"fuel","t":12474,"lo":19.5,"hi":27.5},{"g":"fuel","t":12851,"lo":24.0,"hi":33.5},{"g":"fuel","t":13228,"lo":28.0,"hi":40.5},{"g":"fuel","t":13605,"lo":34.8,"hi":47.1},{"g":"fuel","t":13981,"lo":37.0,"hi":52.3},{"g":"fuel","t":14357,"lo":40.4,"hi":57.0},{"g":"fuel","t":14710,"lo":44.0,"hi":62.4},{"g":"fuel","t":15087,"lo":47.5,"hi":65.8},{"g":"fuel","t":15463,"lo":48.0,"hi":67.0},{"g":"fuel","t":15840,"lo":49.1,"hi":70.0},{"g":"fuel","t":16217,"lo":53.1,"hi":75.5},{"g":"fuel","t":16543,"lo":57.2,"hi":80.3},{"g":"fuel","t":16919,"lo":61.3,"hi":87.2},
  {"g":"bundle","t":10315,"lo":1.2,"hi":2.2},{"g":"bundle","t":10566,"lo":3.2,"hi":4.9},{"g":"bundle","t":10817,"lo":3.7,"hi":5.6},{"g":"bundle","t":11043,"lo":5.6,"hi":7.5},{"g":"bundle","t":11294,"lo":7.8,"hi":10.8},{"g":"bundle","t":11520,"lo":9.7,"hi":13.8},{"g":"bundle","t":11772,"lo":12.0,"hi":16.8},{"g":"bundle","t":12022,"lo":14.6,"hi":20.6},{"g":"bundle","t":12274,"lo":17.2,"hi":24.3},{"g":"bundle","t":12525,"lo":19.8,"hi":28.0},{"g":"bundle","t":12776,"lo":22.4,"hi":32.0},{"g":"bundle","t":13002,"lo":25.4,"hi":35.9},{"g":"bundle","t":13253,"lo":28.8,"hi":41.1},{"g":"bundle","t":13505,"lo":31.8,"hi":44.8},{"g":"bundle","t":13755,"lo":34.4,"hi":48.6},{"g":"bundle","t":13992,"lo":37.0,"hi":52.3},{"g":"bundle","t":14233,"lo":39.2,"hi":55.3},{"g":"bundle","t":14484,"lo":40.7,"hi":57.6},{"g":"bundle","t":14725,"lo":43.7,"hi":62.0},{"g":"bundle","t":14961,"lo":46.0,"hi":64.6},{"g":"bundle","t":15212,"lo":47.1,"hi":66.3},{"g":"bundle","t":15463,"lo":47.5,"hi":66.7},{"g":"bundle","t":15689,"lo":48.2,"hi":67.8},{"g":"bundle","t":15940,"lo":50.1,"hi":70.2},{"g":"bundle","t":16191,"lo":53.1,"hi":74.6},{"g":"bundle","t":16432,"lo":54.9,"hi":77.2},{"g":"bundle","t":16669,"lo":57.9,"hi":81.7},{"g":"bundle","t":16919,"lo":61.3,"hi":86.3},{"g":"bundle","t":17145,"lo":63.7,"hi":89.9},{"g":"bundle","t":17296,"lo":65.0,"hi":91.7}
 ],
 "marks": [
  {"s":"IRSN-ASTEC","m":"1","t":14300,"v":63.3},{"s":"IRSN-ASTEC","m":"1","t":15800,"v":71.4},
  {"s":"VUJE-ASTEC","m":"2","t":8880,"v":0.1},{"s":"VUJE-ASTEC","m":"2","t":14860,"v":65.6},{"s":"VUJE-ASTEC","m":"2","t":16870,"v":77},
  {"s":"UJV-ASTEC","m":"3","t":9240,"v":1.9},{"s":"UJV-ASTEC","m":"3","t":9888,"v":13.1},{"s":"UJV-ASTEC","m":"3","t":10868,"v":35.5},{"s":"UJV-ASTEC","m":"3","t":12274,"v":47.5},{"s":"UJV-ASTEC","m":"3","t":13981,"v":70.6},{"s":"UJV-ASTEC","m":"3","t":15739,"v":80.7},{"s":"UJV-ASTEC","m":"3","t":17550,"v":83.5},
  {"s":"ENEA-ASTEC","m":"4","t":10868,"v":34.4},{"s":"ENEA-ASTEC","m":"4","t":12877,"v":45.6},{"s":"ENEA-ASTEC","m":"4","t":14860,"v":64},{"s":"ENEA-ASTEC","m":"4","t":16844,"v":76.6},
  {"s":"UNIPI-ASTEC","m":"5","t":8650,"v":1.3},{"s":"UNIPI-ASTEC","m":"5","t":10466,"v":24.7},{"s":"UNIPI-ASTEC","m":"5","t":12274,"v":40.4},{"s":"UNIPI-ASTEC","m":"5","t":14032,"v":57.5},{"s":"UNIPI-ASTEC","m":"5","t":15789,"v":70.6},{"s":"UNIPI-ASTEC","m":"5","t":17650,"v":77.7},
  {"s":"USNRC-MELCOR","m":"6","t":10767,"v":25.8},{"s":"USNRC-MELCOR","m":"6","t":12575,"v":34.8},{"s":"USNRC-MELCOR","m":"6","t":16550,"v":65.6},
  {"s":"KAERI-MELCOR","m":"7","t":11470,"v":58.7},{"s":"KAERI-MELCOR","m":"7","t":13379,"v":77.2},{"s":"KAERI-MELCOR","m":"7","t":15337,"v":87.4},{"s":"KAERI-MELCOR","m":"7","t":17250,"v":93},
  {"s":"UJV-MELCOR","m":"8","t":9888,"v":4.5},{"s":"UJV-MELCOR","m":"8","t":10490,"v":11.2},{"s":"UJV-MELCOR","m":"8","t":12474,"v":45.6},{"s":"UJV-MELCOR","m":"8","t":14082,"v":54.2},{"s":"UJV-MELCOR","m":"8","t":15689,"v":57.8},{"s":"UJV-MELCOR","m":"8","t":17246,"v":69.1},
  {"s":"UNIPI-MELCOR","m":"9","t":9080,"v":1.6},{"s":"UNIPI-MELCOR","m":"9","t":9712,"v":3},{"s":"UNIPI-MELCOR","m":"9","t":13077,"v":80.2},{"s":"UNIPI-MELCOR","m":"9","t":16041,"v":93.8},
  {"s":"EDF-MAAP","m":"A","t":9385,"v":-0.3},{"s":"EDF-MAAP","m":"A","t":11320,"v":5.2},{"s":"EDF-MAAP","m":"A","t":12048,"v":12.5},{"s":"EDF-MAAP","m":"A","t":14559,"v":44.8},{"s":"EDF-MAAP","m":"A","t":16141,"v":63.5},{"s":"EDF-MAAP","m":"A","t":16643,"v":70.6},
  {"s":"GRS1-ATHLET-CD","m":"O","t":8470,"v":1.5},{"s":"GRS1-ATHLET-CD","m":"O","t":9400,"v":1.3},{"s":"GRS1-ATHLET-CD","m":"O","t":9850,"v":2},{"s":"GRS1-ATHLET-CD","m":"O","t":10189,"v":4.5},{"s":"GRS1-ATHLET-CD","m":"O","t":10466,"v":8.6},{"s":"GRS1-ATHLET-CD","m":"O","t":10868,"v":15.3},{"s":"GRS1-ATHLET-CD","m":"O","t":11094,"v":22},{"s":"GRS1-ATHLET-CD","m":"O","t":11345,"v":25.8},{"s":"GRS1-ATHLET-CD","m":"O","t":11922,"v":36.3},{"s":"GRS1-ATHLET-CD","m":"O","t":12726,"v":48.2},{"s":"GRS1-ATHLET-CD","m":"O","t":13529,"v":61.5},{"s":"GRS1-ATHLET-CD","m":"O","t":14333,"v":69.9},{"s":"GRS1-ATHLET-CD","m":"O","t":15111,"v":74.5},{"s":"GRS1-ATHLET-CD","m":"O","t":15915,"v":77.2},{"s":"GRS1-ATHLET-CD","m":"O","t":16442,"v":79.6},{"s":"GRS1-ATHLET-CD","m":"O","t":16693,"v":80.5},{"s":"GRS1-ATHLET-CD","m":"O","t":17196,"v":82.2},
  {"s":"GRS2-ATHLET-CD","m":"E","t":8380,"v":1.5},{"s":"GRS2-ATHLET-CD","m":"E","t":9450,"v":1.2},{"s":"GRS2-ATHLET-CD","m":"E","t":10014,"v":2.4},{"s":"GRS2-ATHLET-CD","m":"E","t":10265,"v":5.2},{"s":"GRS2-ATHLET-CD","m":"E","t":10717,"v":13.8},{"s":"GRS2-ATHLET-CD","m":"E","t":11043,"v":20.9},{"s":"GRS2-ATHLET-CD","m":"E","t":11420,"v":29.5},{"s":"GRS2-ATHLET-CD","m":"E","t":12474,"v":46},{"s":"GRS2-ATHLET-CD","m":"E","t":13228,"v":57.9},{"s":"GRS2-ATHLET-CD","m":"E","t":13931,"v":66.1},{"s":"GRS2-ATHLET-CD","m":"E","t":14584,"v":72},{"s":"GRS2-ATHLET-CD","m":"E","t":15197,"v":74.8},{"s":"GRS2-ATHLET-CD","m":"E","t":16150,"v":78.3},{"s":"GRS2-ATHLET-CD","m":"E","t":16550,"v":79.8},{"s":"GRS2-ATHLET-CD","m":"E","t":16844,"v":80.8},{"s":"GRS2-ATHLET-CD","m":"E","t":17271,"v":83.2},{"s":"GRS2-ATHLET-CD","m":"E","t":17950,"v":83.4},
  {"s":"RUB-ATHLET-CD","m":"X","t":8290,"v":1.5},{"s":"RUB-ATHLET-CD","m":"X","t":9712,"v":1.2},{"s":"RUB-ATHLET-CD","m":"X","t":10843,"v":17.9},{"s":"RUB-ATHLET-CD","m":"X","t":11696,"v":39.2},{"s":"RUB-ATHLET-CD","m":"X","t":13379,"v":58.4},{"s":"RUB-ATHLET-CD","m":"X","t":14810,"v":72.9},{"s":"RUB-ATHLET-CD","m":"X","t":16041,"v":78},{"s":"RUB-ATHLET-CD","m":"X","t":17070,"v":84.5}
 ]
},
"encoding": {
 "x": {"field": "t", "type": "quantitative", "scale": {"domain": [7000, 18000], "nice": false, "zero": false},
   "axis": {"title": "TIME (s)", "values": [7000,8000,9000,10000,11000,12000,13000,14000,15000,16000,17000,18000], "format": "d", "labelExpr": "datum.value % 2000 == 0 ? datum.label : ''", "labelFontSize": 18, "labelPadding": 4, "titlePadding": 0}},
 "y": {"field": "v", "type": "quantitative", "scale": {"domain": [-10, 110], "nice": false, "zero": false},
   "axis": {"title": "Iodine release % (i.i)", "values": [-10,0,10,20,30,40,50,60,70,80,90,100,110], "labelExpr": "(datum.value % 20 == 0 && datum.value >= 0 && datum.value <= 100) ? datum.label : ''", "titleX": -56, "titleY": 310, "titleBaseline": "bottom", "titleAngle": -90}}
},
"layer": [
 {"data": {"name": "curves"}, "mark": {"type": "line", "strokeWidth": 1, "interpolate": "monotone"},
  "encoding": {"color": {"field": "s", "type": "nominal",
    "scale": {"domain": ["Exp. Bundle release","IRSN-ASTEC","VUJE-ASTEC","UJV-ASTEC","ENEA-ASTEC","UNIPI-ASTEC","USNRC-MELCOR","KAERI-MELCOR","UJV-MELCOR","UNIPI-MELCOR","EDF-MAAP","GRS1-ATHLET-CD","GRS2-ATHLET-CD","RUB-ATHLET-CD","Exp. Fuel release"],
              "range": ["#000000","#ff0000","#00ee00","#0000ff","#00ffff","#ff00ff","#ff8000","#808000","#000080","#800080","#800000","#008000","#000000","#008080","#c0c0c0"]},
    "legend": {"orient": "none", "legendX": 27, "legendY": 6, "title": null, "symbolType": "stroke", "symbolSize": 3400, "symbolStrokeWidth": 1.2, "labelOffset": 10, "labelFontSize": 20, "labelColor": "black", "labelFont": "Liberation Sans", "labelLimit": 300, "rowPadding": 3.6,
      "encode": {"symbols": {"update": {"strokeWidth": {"signal": "datum.value === 'Exp. Bundle release' || datum.value === 'Exp. Fuel release' ? 4 : 1.2"}}}}}}}},
 {"data": {"name": "err"}, "transform": [{"filter": "datum.g == 'fuel'"}], "mark": {"type": "rule", "color": "#c8c8c8", "strokeWidth": 1.5}, "encoding": {"y": {"field": "lo", "type": "quantitative"}, "y2": {"field": "hi"}}},
 {"data": {"name": "err"}, "transform": [{"filter": "datum.g == 'fuel'"}], "mark": {"type": "tick", "orient": "horizontal", "color": "#c8c8c8", "size": 10, "thickness": 1.5}, "encoding": {"y": {"field": "lo", "type": "quantitative"}}},
 {"data": {"name": "err"}, "transform": [{"filter": "datum.g == 'fuel'"}], "mark": {"type": "tick", "orient": "horizontal", "color": "#c8c8c8", "size": 10, "thickness": 1.5}, "encoding": {"y": {"field": "hi", "type": "quantitative"}}},
 {"data": {"name": "err"}, "transform": [{"filter": "datum.g == 'bundle'"}], "mark": {"type": "rule", "color": "#666666", "strokeWidth": 1.5}, "encoding": {"y": {"field": "lo", "type": "quantitative"}, "y2": {"field": "hi"}}},
 {"data": {"name": "err"}, "transform": [{"filter": "datum.g == 'bundle'"}], "mark": {"type": "tick", "orient": "horizontal", "color": "#666666", "size": 10, "thickness": 1.5}, "encoding": {"y": {"field": "lo", "type": "quantitative"}}},
 {"data": {"name": "err"}, "transform": [{"filter": "datum.g == 'bundle'"}], "mark": {"type": "tick", "orient": "horizontal", "color": "#666666", "size": 10, "thickness": 1.5}, "encoding": {"y": {"field": "hi", "type": "quantitative"}}},
 {"data": {"name": "fuel"}, "mark": {"type": "line", "strokeWidth": 5.5, "interpolate": "monotone"}, "encoding": {"color": {"field": "s", "type": "nominal"}}},
 {"data": {"name": "bundle"}, "mark": {"type": "line", "strokeWidth": 2.8, "interpolate": "monotone"}, "encoding": {"color": {"field": "s", "type": "nominal"}}},
 {"data": {"name": "marks"}, "mark": {"type": "text", "font": "Liberation Serif", "fontSize": 13, "align": "center", "baseline": "middle"}, "encoding": {"text": {"field": "m"}, "color": {"field": "s", "type": "nominal", "legend": null}}}
]
}
